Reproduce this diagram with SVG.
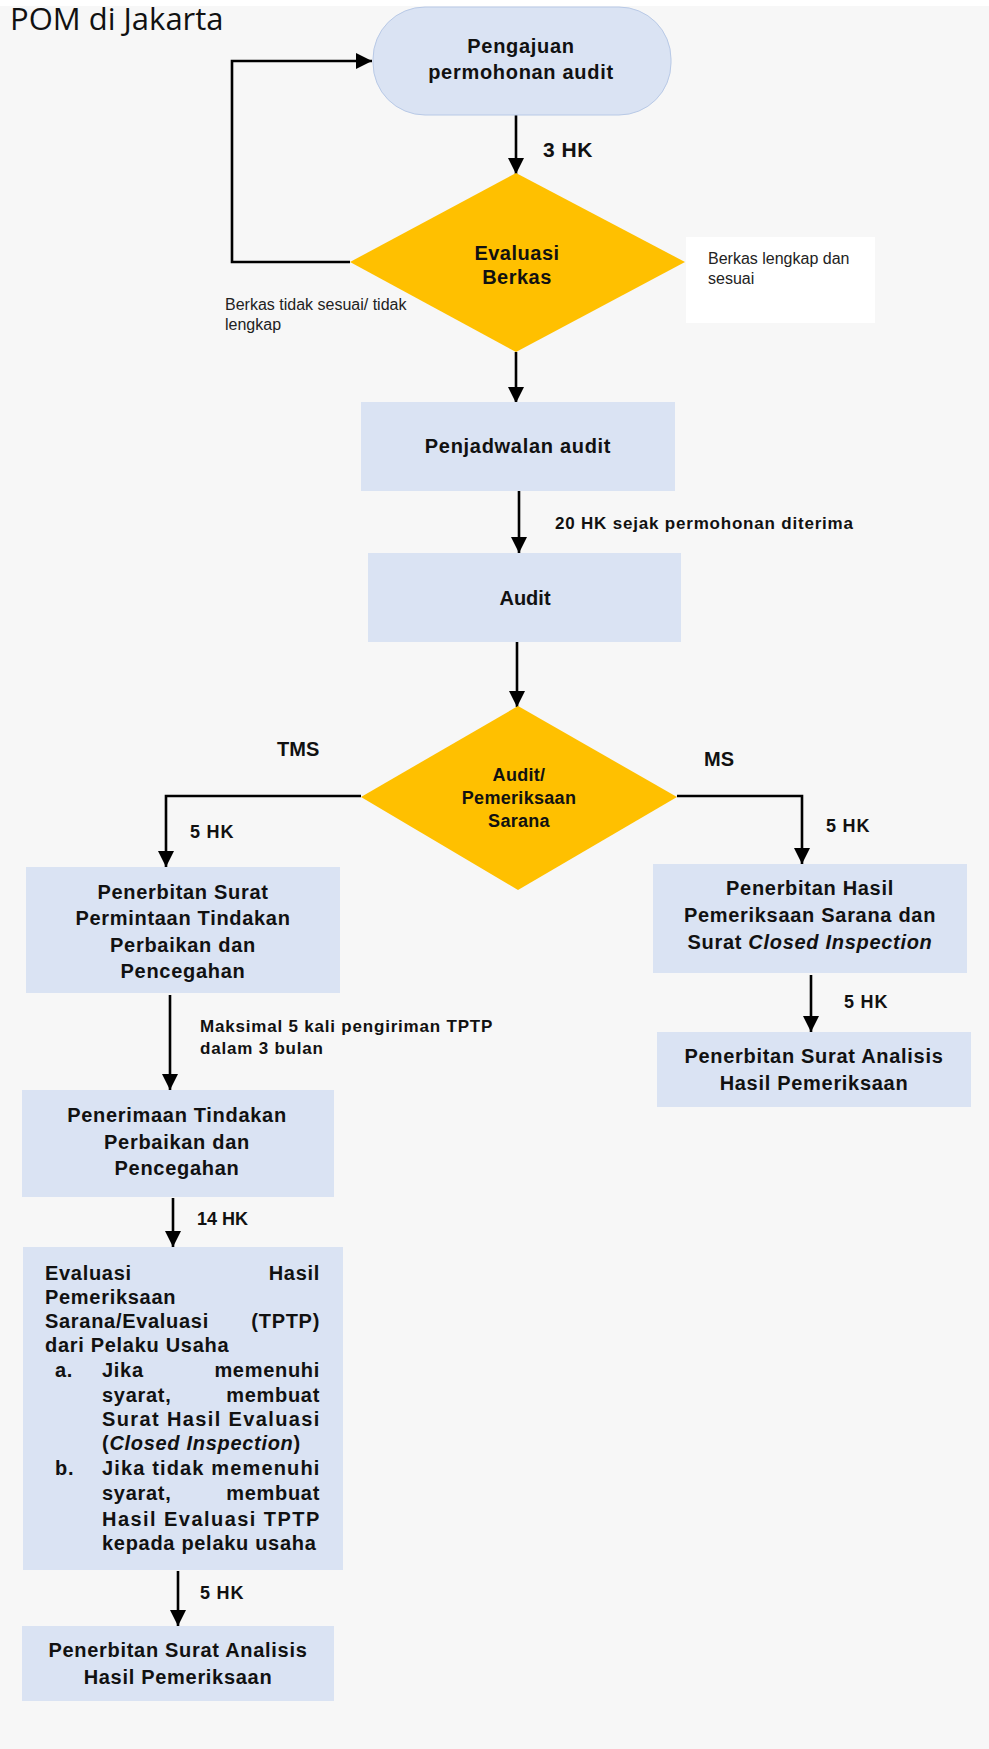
<svg xmlns="http://www.w3.org/2000/svg" width="989" height="1749" viewBox="0 0 989 1749">
<style>
.bg{fill:#f7f7f7}
.box{fill:#dae3f3}
.dia{fill:#ffc000}
.t{font-family:"Liberation Sans",Arial,sans-serif;font-weight:bold;font-size:20px;fill:#111;letter-spacing:0.7px}
.c{text-anchor:middle}
.e{text-anchor:end}
.lbl{font-family:"Liberation Sans",Arial,sans-serif;font-weight:bold;font-size:17px;fill:#111;letter-spacing:0.8px}
.hk{font-family:"Liberation Sans",Arial,sans-serif;font-weight:bold;font-size:18px;fill:#111;letter-spacing:0.8px}
.reg{font-family:"Liberation Sans",Arial,sans-serif;font-size:16px;fill:#222}
.ln{fill:none;stroke:#000;stroke-width:2.6}
</style>
<defs>
<marker id="ah" markerUnits="userSpaceOnUse" markerWidth="16" markerHeight="16" viewBox="0 0 16 16" refX="16" refY="8" orient="auto">
<path d="M0,0 L16,8 L0,16 z" fill="#000"/>
</marker>
</defs>
<rect x="0" y="0" width="989" height="1749" fill="#ffffff"/>
<rect class="bg" x="0" y="6" width="989" height="1743"/>
<text x="10" y="30" font-family="'Open Sans','Noto Sans',sans-serif" font-size="31" fill="#111">POM di Jakarta</text>

<g id="connectors">
<path class="ln" d="M350,262 H232 V61 H372" marker-end="url(#ah)"/>
<path class="ln" d="M516,115 V174" marker-end="url(#ah)"/>
<path class="ln" d="M516,352 V403" marker-end="url(#ah)"/>
<path class="ln" d="M519,489 V553" marker-end="url(#ah)"/>
<path class="ln" d="M517,642 V707" marker-end="url(#ah)"/>
<path class="ln" d="M361,796 H166 V867" marker-end="url(#ah)"/>
<path class="ln" d="M677,796 H802 V864" marker-end="url(#ah)"/>
<path class="ln" d="M811,975 V1032" marker-end="url(#ah)"/>
<path class="ln" d="M170,995 V1090" marker-end="url(#ah)"/>
<path class="ln" d="M173,1198 V1247" marker-end="url(#ah)"/>
<path class="ln" d="M178,1571 V1626" marker-end="url(#ah)"/>
<text class="t" x="543" y="157" style="font-size:21px;letter-spacing:0.5px">3 HK</text>
<text class="lbl" x="555" y="529">20 HK sejak permohonan diterima</text>
<text class="t" x="277" y="756" style="letter-spacing:0">TMS</text>
<text class="t" x="704" y="766" style="letter-spacing:0">MS</text>
<text class="hk" x="190" y="838">5 HK</text>
<text class="hk" x="826" y="832">5 HK</text>
<text class="hk" x="844" y="1008">5 HK</text>
<text class="lbl" x="200" y="1032">Maksimal 5 kali pengiriman TPTP</text>
<text class="lbl" x="200" y="1054">dalam 3 bulan</text>
<text class="hk" x="197" y="1225" style="letter-spacing:0">14 HK</text>
<text class="hk" x="200" y="1599">5 HK</text>
</g>

<g id="n-pengajuan">
<rect class="box" x="373" y="7" width="298" height="108" rx="52" ry="52" stroke="#b8c9e6" stroke-width="1"/>
<text class="t c" x="521" y="53">Pengajuan</text>
<text class="t c" x="521" y="79">permohonan audit</text>
</g>

<g id="n-evaluasi-berkas">
<polygon class="dia" points="516,173 685,262 516,352 350,262"/>
<text class="t c" x="517" y="260" style="letter-spacing:0.5px">Evaluasi</text>
<text class="t c" x="517" y="284" style="letter-spacing:0.5px">Berkas</text>
</g>

<g id="lbl-tidak-sesuai">
<text class="reg" x="225" y="310">Berkas tidak sesuai/ tidak</text>
<text class="reg" x="225" y="330">lengkap</text>
</g>

<g id="lbl-lengkap">
<rect x="686" y="237" width="189" height="86" fill="#ffffff"/>
<text class="reg" x="708" y="264">Berkas lengkap dan</text>
<text class="reg" x="708" y="284">sesuai</text>
</g>

<g id="n-penjadwalan">
<rect class="box" x="361" y="402" width="314" height="89"/>
<text class="t c" x="518" y="453">Penjadwalan audit</text>
</g>

<g id="n-audit">
<rect class="box" x="368" y="553" width="313" height="89"/>
<text class="t c" x="525" y="605" style="letter-spacing:0">Audit</text>
</g>

<g id="n-pemeriksaan-sarana">
<polygon class="dia" points="518,706 677,797 518,890 361,797"/>
<text class="t c" x="519" y="781" style="font-size:18px;letter-spacing:0.3px">Audit/</text>
<text class="t c" x="519" y="804" style="font-size:18px;letter-spacing:0.3px">Pemeriksaan</text>
<text class="t c" x="519" y="827" style="font-size:18px;letter-spacing:0.3px">Sarana</text>
</g>

<g id="n-surat-permintaan">
<rect class="box" x="26" y="867" width="314" height="126"/>
<text class="t c" x="183" y="899">Penerbitan Surat</text>
<text class="t c" x="183" y="925">Permintaan Tindakan</text>
<text class="t c" x="183" y="952">Perbaikan dan</text>
<text class="t c" x="183" y="978">Pencegahan</text>
</g>

<g id="n-hasil-pemeriksaan">
<rect class="box" x="653" y="864" width="314" height="109"/>
<text class="t c" x="810" y="895">Penerbitan Hasil</text>
<text class="t c" x="810" y="922">Pemeriksaan Sarana dan</text>
<text class="t c" x="810" y="949">Surat <tspan font-style="italic">Closed Inspection</tspan></text>
</g>

<g id="n-analisis-ms">
<rect class="box" x="657" y="1032" width="314" height="75"/>
<text class="t c" x="814" y="1063">Penerbitan Surat Analisis</text>
<text class="t c" x="814" y="1090">Hasil Pemeriksaan</text>
</g>

<g id="n-penerimaan">
<rect class="box" x="22" y="1090" width="312" height="107"/>
<text class="t c" x="177" y="1122">Penerimaan Tindakan</text>
<text class="t c" x="177" y="1149">Perbaikan dan</text>
<text class="t c" x="177" y="1175">Pencegahan</text>
</g>

<g id="n-evaluasi-hasil">
<rect class="box" x="23" y="1247" width="320" height="323"/>
<text class="t" x="45" y="1280">Evaluasi</text>
<text class="t e" x="320" y="1280">Hasil</text>
<text class="t" x="45" y="1304">Pemeriksaan</text>
<text class="t" x="45" y="1328">Sarana/Evaluasi</text>
<text class="t e" x="320" y="1328">(TPTP)</text>
<text class="t" x="45" y="1352">dari Pelaku Usaha</text>
<text class="t" x="55" y="1377">a.</text>
<text class="t" x="102" y="1377">Jika</text>
<text class="t e" x="320" y="1377">memenuhi</text>
<text class="t" x="102" y="1402">syarat,</text>
<text class="t e" x="320" y="1402">membuat</text>
<text class="t" x="102" y="1426" textLength="218" lengthAdjust="spacing">Surat Hasil Evaluasi</text>
<text class="t" x="102" y="1450">(<tspan font-style="italic">Closed Inspection</tspan>)</text>
<text class="t" x="55" y="1475">b.</text>
<text class="t" x="102" y="1475" textLength="218" lengthAdjust="spacing">Jika tidak memenuhi</text>
<text class="t" x="102" y="1500">syarat,</text>
<text class="t e" x="320" y="1500">membuat</text>
<text class="t" x="102" y="1526" textLength="218" lengthAdjust="spacing">Hasil Evaluasi TPTP</text>
<text class="t" x="102" y="1550">kepada pelaku usaha</text>
</g>

<g id="n-analisis-tms">
<rect class="box" x="22" y="1626" width="312" height="75"/>
<text class="t c" x="178" y="1657">Penerbitan Surat Analisis</text>
<text class="t c" x="178" y="1684">Hasil Pemeriksaan</text>
</g>
</svg>
